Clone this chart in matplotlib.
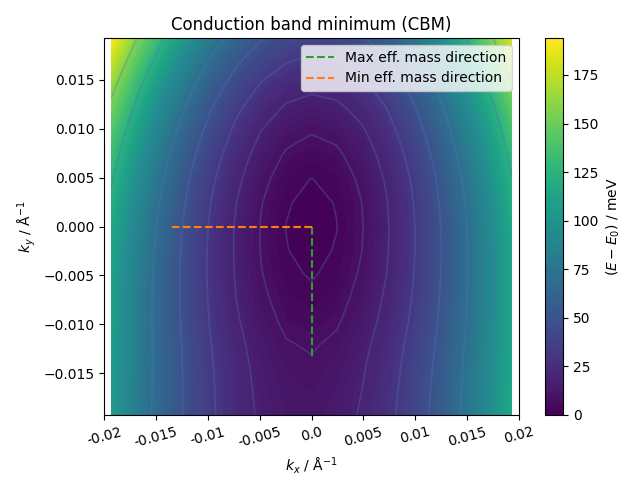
import numpy as np
import matplotlib
matplotlib.use("Agg")
import matplotlib.pyplot as plt

# grid coordinates (1/Angstrom)
kx = [-0.0193, -0.01689, -0.01448, -0.01206, -0.00965, -0.00724, -0.00483, -0.00241, 0.0,
      0.00241, 0.00483, 0.00724, 0.00965, 0.01206, 0.01448, 0.01689, 0.0193]
ky = [-0.0193, -0.01689, -0.01448, -0.01206, -0.00965, -0.00724, -0.00483, -0.00241, 0.0,
      0.00241, 0.00483, 0.00724, 0.00965, 0.01206, 0.01448, 0.01689, 0.0193]

# E - E0 in meV, rows from ky = -0.0193 (bottom) to ky = +0.0193 (top)
energy = [
    [103.9, 81.5, 62.1, 45.9, 32.7, 22.6, 15.6, 11.6, 10.8, 13.0, 18.4, 26.8, 38.3, 52.9, 70.5, 91.3, 115.1],
    [104.9, 82.1, 62.4, 45.9, 32.4, 22.1, 14.9, 10.9, 9.9, 12.1, 17.4, 25.8, 37.3, 52.0, 69.8, 90.7, 114.7],
    [105.8, 82.6, 62.6, 45.7, 31.9, 21.4, 14.0, 9.8, 8.7, 10.8, 16.1, 24.5, 36.1, 50.9, 68.8, 89.9, 114.2],
    [106.5, 82.8, 62.3, 45.1, 31.0, 20.2, 12.6, 8.2, 7.0, 9.1, 14.3, 22.8, 34.5, 49.4, 67.6, 88.9, 113.5],
    [107.0, 82.7, 61.8, 44.1, 29.6, 18.5, 10.7, 6.1, 4.8, 6.8, 12.1, 20.6, 32.4, 47.6, 66.0, 87.6, 112.6],
    [108.1, 83.3, 61.7, 43.6, 28.8, 17.3, 9.2, 4.4, 3.0, 4.9, 10.2, 18.9, 30.9, 46.2, 64.9, 86.9, 112.3],
    [109.7, 84.2, 62.1, 43.4, 28.2, 16.4, 8.0, 3.0, 1.45, 3.3, 8.7, 17.4, 29.6, 45.2, 64.2, 86.7, 112.5],
    [112.2, 85.9, 63.1, 43.9, 28.2, 16.0, 7.3, 2.1, 0.4, 2.3, 7.6, 16.5, 28.9, 44.8, 64.2, 87.1, 113.6],
    [115.5, 88.4, 65.0, 45.1, 28.9, 16.2, 7.2, 1.8, 0.0, 1.8, 7.2, 16.2, 28.9, 45.1, 65.0, 88.4, 115.5],
    [119.9, 92.0, 67.8, 47.3, 30.5, 17.4, 8.0, 2.4, 0.4, 2.2, 7.7, 16.9, 29.8, 46.4, 66.7, 90.8, 118.5],
    [125.6, 96.7, 71.7, 50.5, 33.1, 19.6, 9.8, 3.9, 1.8, 3.6, 9.1, 18.5, 31.7, 48.7, 69.6, 94.3, 122.8],
    [132.6, 102.7, 76.9, 54.9, 36.9, 22.9, 12.7, 6.6, 4.3, 6.1, 11.7, 21.3, 34.8, 52.3, 73.7, 99.1, 128.4],
    [141.1, 110.3, 83.5, 60.7, 42.1, 27.5, 17.0, 10.5, 8.1, 9.8, 15.6, 25.4, 39.3, 57.2, 79.3, 105.4, 135.6],
    [151.4, 119.4, 91.6, 68.0, 48.7, 33.5, 22.6, 15.8, 13.3, 15.0, 20.8, 30.9, 45.2, 63.7, 86.4, 113.3, 144.4],
    [163.4, 130.3, 101.5, 77.0, 56.9, 41.2, 29.8, 22.7, 20.0, 21.7, 27.7, 38.0, 52.7, 71.8, 95.2, 122.9, 155.0],
    [177.5, 143.1, 113.2, 87.8, 67.0, 50.6, 38.7, 31.4, 28.5, 30.1, 36.3, 46.9, 62.1, 81.7, 105.9, 134.5, 167.7],
    [193.6, 157.9, 126.9, 100.6, 78.9, 61.9, 49.5, 41.8, 38.8, 40.4, 46.7, 57.7, 73.3, 93.6, 118.6, 148.2, 182.4],
]

# iso-energy line levels (meV)
line_levels = [1.94, 7.74, 17.4, 31.0, 48.4, 69.7, 94.9, 123.9, 156.8]

# effective mass direction segments
max_dir_kx = [0.0, 0.0]
max_dir_ky = [0.0, -0.0136]
min_dir_kx = [0.0, -0.0136]
min_dir_ky = [0.0, 0.0]

xtick_pos = [-0.02, -0.015, -0.01, -0.005, 0.0, 0.005, 0.01, 0.015, 0.02]
xtick_labels = ['-0.02', '-0.015', '-0.01', '-0.005', '0.0', '0.005', '0.01', '0.015', '0.02']

KX, KY = np.meshgrid(np.array(kx), np.array(ky))
E = np.array(energy)

fig = plt.figure(figsize=(6.4, 4.8), dpi=100)
ax = fig.add_axes([104 / 640, 65 / 480, 415 / 640, 377 / 480])
cax = fig.add_axes([545 / 640, 65 / 480, 18 / 640, 377 / 480])
cf = ax.contourf(KX, KY, E, levels=100, cmap='viridis')
ax.contour(KX, KY, E, levels=line_levels, colors='#5070c0', alpha=0.35, linewidths=1.2)
ax.plot(max_dir_kx, max_dir_ky, '--', color='C2', label='Max eff. mass direction')
ax.plot(min_dir_kx, min_dir_ky, '--', color='C1', label='Min eff. mass direction')
ax.set_xlim(-0.02, 0.02)
ax.set_xticks(xtick_pos)
ax.set_xticklabels(xtick_labels, rotation=15)
ax.set_xlabel(r'$k_x$ / Å$^{-1}$')
ax.set_ylabel(r'$k_y$ / Å$^{-1}$')
ax.set_title('Conduction band minimum (CBM)')
ax.legend(loc='upper right')
cb = fig.colorbar(cf, cax=cax)
cb.set_label(r'$(E-E_0)$ / meV')
cb.set_ticks([0, 25, 50, 75, 100, 125, 150, 175])
fig.savefig('out.png')
